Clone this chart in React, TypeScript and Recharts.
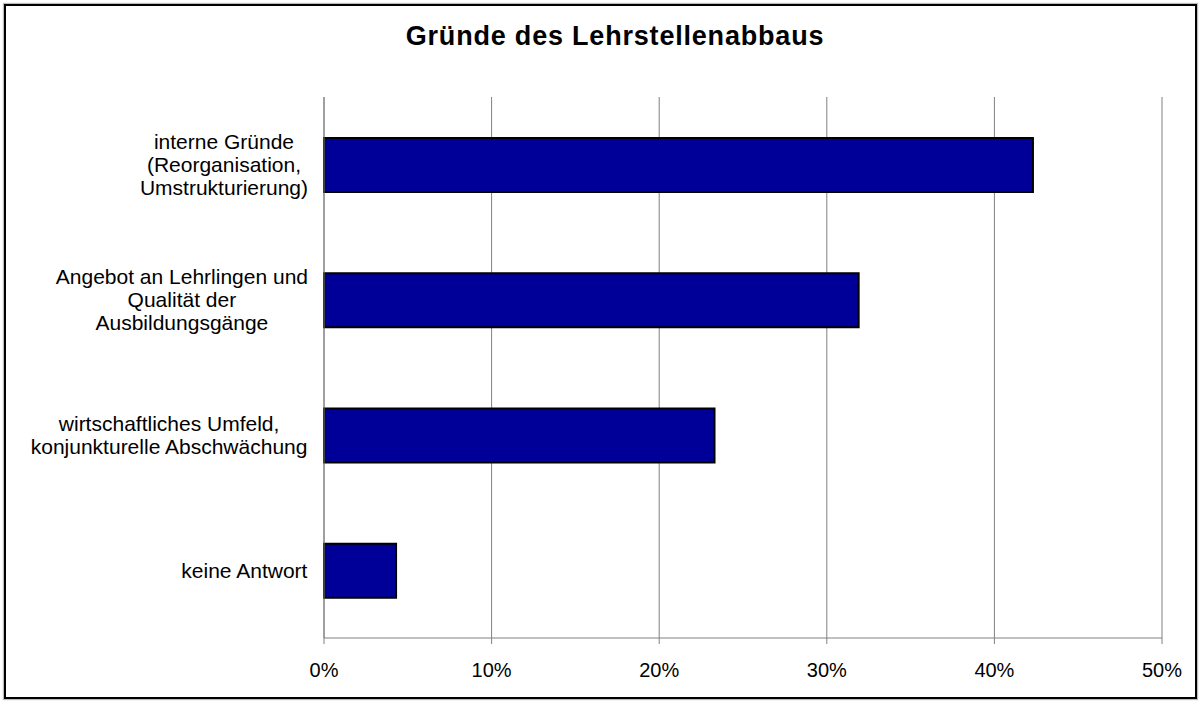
import React from "react";
import { BarChart, Bar, XAxis, YAxis, CartesianGrid } from "recharts";

const categories = [
  "interne Gründe\n(Reorganisation,\nUmstrukturierung)",
  "Angebot an Lehrlingen und\nQualität der\nAusbildungsgänge",
  "wirtschaftliches Umfeld,\nkonjunkturelle Abschwächung",
  "keine Antwort",
];
const values = [42.3, 31.9, 23.3, 4.3];
const xTicks = [0, 10, 20, 30, 40, 50];

const data = categories.map((name, i) => ({ name, value: values[i] }));

const FONT = "'Liberation Sans', Arial, sans-serif";

let ctx: CanvasRenderingContext2D | null = null;
const measure = (s: string, size: number) => {
  if (!ctx) ctx = document.createElement("canvas").getContext("2d");
  if (!ctx) return s.length * size * 0.5;
  ctx.font = `${size}px 'Liberation Sans', Arial, sans-serif`;
  return ctx.measureText(s).width;
};

const CategoryTick = (props: any) => {
  const { x, y, payload } = props;
  const lines: string[] = String(payload.value).split("\n");
  const size = 21;
  const lh = 23;
  const maxW = Math.max(...lines.map((l) => measure(l, size)));
  const cx = x - 8 - maxW / 2;
  const startY = y - ((lines.length - 1) * lh) / 2;
  return (
    <text
      x={cx}
      y={startY}
      textAnchor="middle"
      fill="#000"
      fontFamily={FONT}
      fontSize={size}
    >
      {lines.map((l, i) => (
        <tspan key={i} x={cx} y={startY + i * lh} dy="0.355em">
          {l}
        </tspan>
      ))}
    </text>
  );
};

const App = () => {
  return (
    <div style={{ position: "absolute", left: 0, top: 0, width: 1202, height: 704, background: "#fff" }}>
      <div
        style={{
          position: "absolute",
          left: 4,
          top: 4,
          width: 1189,
          height: 691,
          border: "2px solid #000",
          boxShadow: "0 0 1px 1px #bbb",
        }}
      />
      <div
        style={{
          position: "absolute",
          left: 0,
          width: 1230,
          top: 21,
          textAlign: "center",
          fontFamily: FONT,
          fontWeight: "bold",
          fontSize: 27,
          letterSpacing: 0.8,
        }}
      >
        Gründe des Lehrstellenabbaus
      </div>
      <div style={{ position: "absolute", left: 0, top: 0 }}>
        <BarChart
          width={1202}
          height={704}
          data={data}
          layout="vertical"
          margin={{ top: 97, right: 40, left: 24, bottom: 36 }}
          barSize={54}
        >
          <CartesianGrid horizontal={false} stroke="#808080" strokeWidth={1} />
          <XAxis
            type="number"
            domain={[0, 50]}
            ticks={xTicks}
            tickFormatter={(v) => `${v}%`}
            stroke="#808080"
            tickSize={6}
            height={30}
            interval={0}
            tick={{ fill: "#000", fontFamily: FONT, fontSize: 20, dy: 17 }}
          />
          <YAxis
            type="category"
            dataKey="name"
            width={300}
            stroke="#808080"
            tickLine={false}
            interval={0}
            tick={<CategoryTick />}
          />
          <Bar dataKey="value" fill="#000099" stroke="#000" strokeWidth={2} isAnimationActive={false} />
        </BarChart>
      </div>
    </div>
  );
};

export default App;
